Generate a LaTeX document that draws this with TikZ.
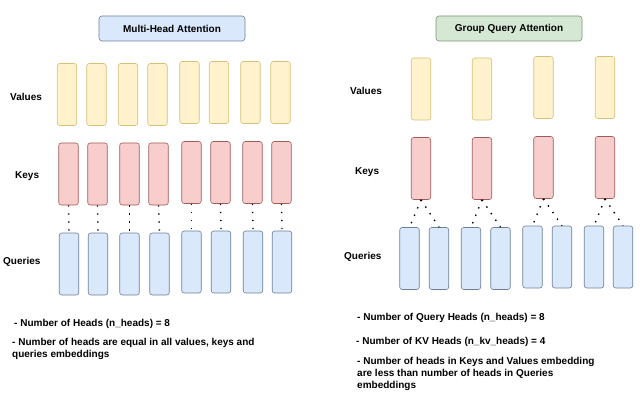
\documentclass[tikz,border=0pt]{standalone}
\usepackage{fontspec}
\setmainfont{Liberation Sans}
\begin{document}
\begin{tikzpicture}[x=1pt,y=-1pt,
  every node/.style={font=\fontsize{10}{12.2}\selectfont\bfseries},
  head/.style={draw, rounded corners=2.5pt, line width=0.6pt, minimum width=19.5pt, minimum height=62pt, inner sep=0pt},
  val/.style={head, fill={rgb,255:red,255;green,242;blue,204}, draw={rgb,255:red,214;green,192;blue,120}},
  key/.style={head, fill={rgb,255:red,248;green,206;blue,204}, draw={rgb,255:red,160;green,90;blue,88}},
  qry/.style={head, fill={rgb,255:red,218;green,232;blue,252}, draw={rgb,255:red,110;green,128;blue,150}},
  title/.style={draw, rounded corners=3pt, line width=0.6pt, minimum height=25pt, inner sep=0pt},
  lbl/.style={anchor=west, inner sep=0pt},
  note/.style={anchor=west, align=left, inner sep=0pt},
  dots/.style={line width=1.4pt, dash pattern=on 1.4pt off 6.6pt, line cap=butt}
]
\useasboundingbox (0,0) rectangle (640,401);
\fill[white] (0,0) rectangle (640,401);

% titles
\node[title, minimum width=146pt, fill={rgb,255:red,218;green,232;blue,252}, draw={rgb,255:red,110;green,128;blue,150}] (t1) at (172,28.5) {Multi-Head Attention};
\node[title, minimum width=146pt, fill={rgb,255:red,213;green,232;blue,212}, draw={rgb,255:red,120;green,150;blue,115}] (t2) at (509,28.5) {Group Query Attention};

% left panel labels
\node[lbl] (lv) at (10,97) {Values};
\node[lbl] (lk) at (15,176) {Keys};
\node[lbl] (lq) at (3,262) {Queries};

% left values
\foreach \i/\x/\y in {1/67/94.5,2/96.5/94.5,3/128/94.5,4/157.5/94.5,5/189.5/92.5,6/219/92.5,7/250.5/92.5,8/280.5/92.5}
  \node[val] (v\i) at (\x,\y) {};
\foreach \i/\x/\y in {1/68.5/174,2/97.5/174,3/129.5/174,4/158.5/174,5/191.5/172.5,6/220.5/172.5,7/252.5/172.5,8/281.5/172.5}
  \node[key] (k\i) at (\x,\y) {};
\foreach \i/\x/\y in {1/69/264,2/98/264,3/129.5/264,4/159.5/264,5/191.5/262,6/221/262,7/253/262,8/282/262}
  \node[qry] (q\i) at (\x,\y) {};
\foreach \i in {1,...,8}
  \draw[dots] (k\i.south) -- (q\i.north);

\node[note] (n1) at (14,324) {- Number of Heads (n\_heads) = 8};
\node[note, anchor=north west] (n2) at (12,338) {- Number of heads are equal in all values, keys and\\queries embeddings};

% right panel labels
\node[lbl] (rv) at (350,91) {Values};
\node[lbl] (rk) at (355,172) {Keys};
\node[lbl] (rq) at (344,257) {Queries};

\foreach \i/\x/\y in {1/421/89,2/482/89,3/543.5/87.5,4/605/87.5}
  \node[val] (gv\i) at (\x,\y) {};
\foreach \i/\x/\y in {1/421/168.5,2/482/168.5,3/543.5/167.5,4/605/167.5}
  \node[key] (gk\i) at (\x,\y) {};
\foreach \i/\x/\y in {1/409.5/258.5,2/439/258.5,3/471/258.5,4/500.5/258.5,5/532.5/257,6/562/257,7/594/257,8/623/257}
  \node[qry] (gq\i) at (\x,\y) {};
\foreach \k/\a/\b in {1/1/2,2/3/4,3/5/6,4/7/8} {
  \draw[dots] (gk\k.south) -- (gq\a.north);
  \draw[dots] (gk\k.south) -- (gq\b.north);
}

\node[note] (n3) at (357,318) {- Number of Query Heads (n\_heads) = 8};
\node[note] (n4) at (356,342) {- Number of KV Heads (n\_kv\_heads) = 4};
\node[note, anchor=north west] (n5) at (357,357) {- Number of heads in Keys and Values embedding\\are less than number of heads in Queries\\embeddings};
\end{tikzpicture}
\end{document}
